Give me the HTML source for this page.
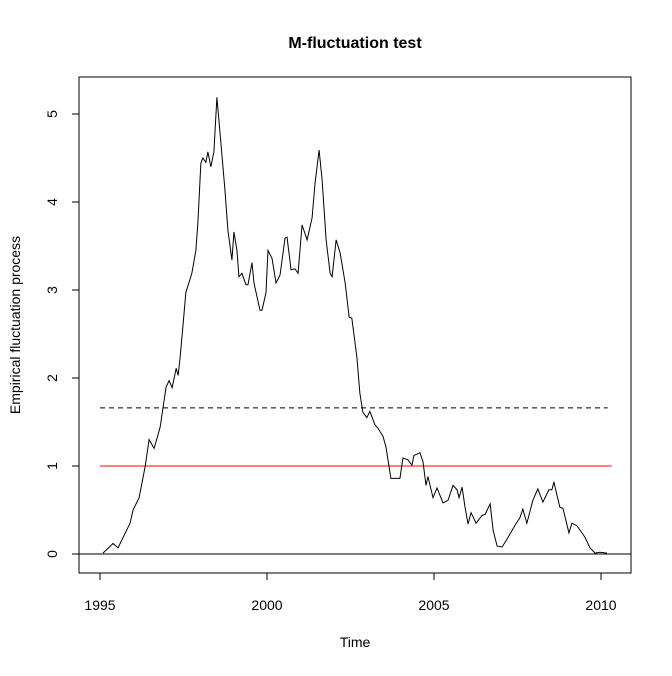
<!DOCTYPE html>
<html><head><meta charset="utf-8"><style>
body{margin:0;background:#fff}
svg text{font-family:"Liberation Sans",Arial,sans-serif}
</style></head><body>
<svg id="chart" width="672" height="671" xmlns="http://www.w3.org/2000/svg">
<rect width="672" height="671" fill="#fff"/>
<text x="355" y="48" text-anchor="middle" font-size="16" font-weight="bold">M-fluctuation test</text>
<text x="355" y="647" text-anchor="middle" font-size="14">Time</text>
<text transform="translate(20,325) rotate(-90)" text-anchor="middle" font-size="14">Empirical fluctuation process</text>
<rect x="79" y="77" width="552" height="496" fill="none" stroke="#000"/>
<g id="axes"></g>
<g id="marks"></g>
</svg>
<script>
const years=[1995.09,1995.39,1995.54,1995.90,1995.99,1996.17,1996.35,1996.47,1996.62,1996.80,1996.98,1997.07,1997.16,1997.28,1997.34,1997.40,1997.49,1997.57,1997.75,1997.87,1997.93,1998.02,1998.08,1998.17,1998.23,1998.32,1998.41,1998.50,1998.62,1998.74,1998.83,1998.95,1999.01,1999.10,1999.16,1999.25,1999.37,1999.43,1999.55,1999.61,1999.79,1999.85,1999.97,2000.03,2000.15,2000.27,2000.39,2000.54,2000.60,2000.72,2000.84,2000.93,2001.05,2001.20,2001.35,2001.44,2001.56,2001.65,2001.77,2001.89,2001.95,2002.07,2002.19,2002.34,2002.46,2002.54,2002.69,2002.78,2002.87,2002.99,2003.08,2003.23,2003.32,2003.47,2003.56,2003.71,2003.83,2003.98,2004.07,2004.22,2004.34,2004.40,2004.58,2004.67,2004.76,2004.82,2004.97,2005.09,2005.27,2005.42,2005.57,2005.69,2005.75,2005.84,2005.93,2006.02,2006.11,2006.26,2006.44,2006.53,2006.68,2006.77,2006.89,2007.04,2007.22,2007.43,2007.57,2007.66,2007.78,2007.96,2008.11,2008.26,2008.44,2008.53,2008.59,2008.68,2008.77,2008.86,2009.04,2009.13,2009.28,2009.43,2009.52,2009.67,2009.82,2009.97,2010.18];
const values=[0.01,0.12,0.07,0.35,0.50,0.64,0.99,1.30,1.20,1.44,1.90,1.97,1.89,2.11,2.03,2.24,2.62,2.97,3.19,3.45,3.76,4.44,4.50,4.45,4.57,4.40,4.57,5.19,4.67,4.14,3.68,3.34,3.66,3.45,3.15,3.19,3.06,3.06,3.31,3.08,2.77,2.77,2.97,3.45,3.36,3.08,3.17,3.59,3.60,3.23,3.24,3.19,3.74,3.57,3.82,4.22,4.59,4.25,3.57,3.19,3.15,3.57,3.42,3.08,2.69,2.68,2.24,1.83,1.61,1.55,1.62,1.47,1.43,1.34,1.22,0.86,0.86,0.86,1.09,1.07,1.01,1.12,1.15,1.05,0.78,0.88,0.64,0.75,0.58,0.61,0.78,0.73,0.64,0.76,0.53,0.34,0.47,0.35,0.44,0.45,0.57,0.27,0.09,0.08,0.19,0.33,0.41,0.51,0.35,0.61,0.74,0.59,0.73,0.73,0.82,0.67,0.53,0.52,0.24,0.35,0.32,0.24,0.19,0.07,0.01,0.02,0.01];
const xTicks=[1995,2000,2005,2010];
const yTicks=[0,1,2,3,4,5];
const boundary=1.66, refLevel=1, tStart=1995, tEnd=2010.2;
const NS="http://www.w3.org/2000/svg";
const X=t=>100+(t-1995)*33.4;
const Y=v=>554-v*88;
const axes=document.getElementById('axes'), marks=document.getElementById('marks');
function mk(tag,attrs,parent){const e=document.createElementNS(NS,tag);for(const k in attrs)e.setAttribute(k,attrs[k]);parent.appendChild(e);return e;}
xTicks.forEach(t=>{
  const l=mk('line',{x1:X(t),x2:X(t),y1:573,y2:580,stroke:'#000'},axes);
  
  
  const tx=mk('text',{x:X(t),y:610,'text-anchor':'middle','font-size':14},axes);
  tx.textContent=t;
  
  
});
mk('line',{x1:X(1995),x2:X(2010),y1:573,y2:573,stroke:'#000'},axes);
yTicks.forEach(v=>{
  const l=mk('line',{x1:72,x2:79,y1:Y(v),y2:Y(v),stroke:'#000'},axes);
  
  
  const tx=mk('text',{transform:`translate(57,${Y(v)}) rotate(-90)`,'text-anchor':'middle','font-size':14},axes);
  tx.textContent=v;
  
  
});
const z=mk('line',{x1:79,x2:631,y1:Y(0),y2:Y(0),stroke:'#000'},marks);


const b=mk('line',{x1:X(tStart),x2:X(tEnd),y1:Y(boundary),y2:Y(boundary),stroke:'#000','stroke-dasharray':'5,4'},marks);


const r=mk('line',{x1:X(tStart),x2:X(tEnd)+4,y1:Y(refLevel),y2:Y(refLevel),stroke:'#f00'},marks);


const p=mk('polyline',{points:years.map((t,i)=>X(t)+','+Y(values[i])).join(' '),fill:'none',stroke:'#000','stroke-width':1},marks);


</script>
</body></html>
